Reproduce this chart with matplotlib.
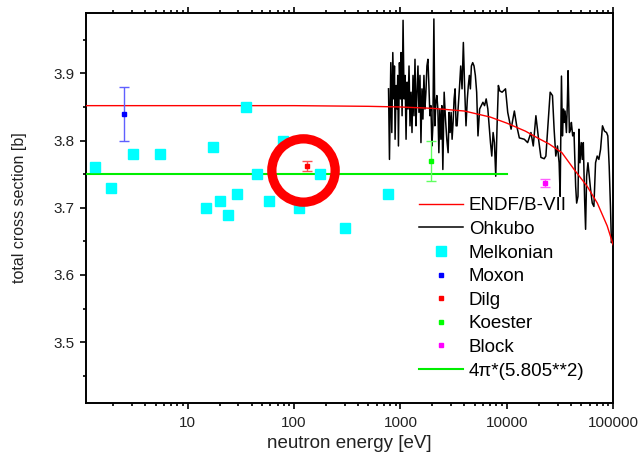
import matplotlib
matplotlib.use("Agg")
import matplotlib.pyplot as plt
from matplotlib.ticker import LogLocator, FixedLocator, NullFormatter, FuncFormatter

plt.rcParams['font.family'] = ['Liberation Sans', 'DejaVu Sans']

# ENDF/B-VII evaluation
endf_e = [1.1, 100, 500, 1000, 2000, 4000, 7000, 10000, 15000, 20000, 25000,
          33000, 43000, 57000, 71000, 88000, 100000]
endf_s = [3.852, 3.852, 3.851, 3.850, 3.848, 3.844, 3.835, 3.826, 3.814, 3.803,
          3.795, 3.782, 3.757, 3.732, 3.707, 3.673, 3.645]

# Ohkubo resonance data
ohkubo_e = [773, 789, 812, 830, 848, 866, 879, 891, 912, 931, 944, 958, 979, 1000,
            1014, 1037, 1059, 1082, 1106, 1130, 1154, 1180, 1205, 1231, 1258, 1285,
            1313, 1342, 1371, 1401, 1431, 1462, 1494, 1527, 1560, 1594, 1628, 1664,
            1700, 1737, 1775, 1814, 1853, 1893, 1935, 1977, 2020, 2064, 2109, 2155,
            2202, 2250, 2299, 2349, 2400, 2452, 2506, 2578, 2653, 2730, 2809, 2871,
            2933, 2997, 3062, 3129, 3197, 3267, 3338, 3411, 3485, 3586, 3690, 3797,
            3907, 4020, 4137, 4257, 4352, 4449, 4548, 4649, 4783, 4922, 5065, 5211,
            5362, 5556, 5757, 5966, 6182, 6405, 6637, 6829, 7027, 7230, 7440, 7655,
            7877, 8105, 8340, 8581, 9035, 9730, 10210, 10980, 11790, 12400, 13130,
            14620, 15710, 16880, 17750, 18790, 19910, 20940, 22490, 23320, 24150,
            25590, 26900, 27870, 28900, 29970, 31070, 31760, 32680, 33370, 34120,
            34600, 35330, 36380, 37160, 37690, 38810, 39930, 40490, 41680, 42880,
            44440, 45410, 46740, 47740, 48770, 50200, 51290, 52440, 53960, 55100,
            56340, 57980, 59700, 61400, 63650, 65960, 68360, 70840, 73420, 76210,
            79430, 82990, 86700, 89160, 91830, 94410, 96400, 99000]
ohkubo_s = [3.877, 3.772, 3.916, 3.812, 3.931, 3.862, 3.911, 3.802, 3.882, 3.847,
            3.897, 3.792, 3.916, 3.862, 3.931, 3.837, 3.979, 3.862, 3.897, 3.802,
            3.887, 3.847, 3.911, 3.822, 3.872, 3.812, 3.897, 3.837, 3.921, 3.822,
            3.872, 3.911, 3.842, 3.897, 3.797, 3.877, 3.832, 3.897, 3.847, 3.872,
            3.911, 3.921, 3.882, 3.837, 3.852, 3.792, 3.822, 3.981, 3.822, 3.857,
            3.867, 3.847, 3.782, 3.847, 3.802, 3.852, 3.757, 3.872, 3.832, 3.802,
            3.782, 3.842, 3.812, 3.842, 3.802, 3.827, 3.862, 3.877, 3.822, 3.822,
            3.847, 3.877, 3.911, 3.877, 3.946, 3.877, 3.822, 3.862, 3.882, 3.897,
            3.877, 3.911, 3.916, 3.911, 3.897, 3.872, 3.807, 3.847, 3.852, 3.857,
            3.852, 3.862, 3.847, 3.822, 3.797, 3.777, 3.812, 3.797, 3.747, 3.822,
            3.882, 3.874, 3.872, 3.877, 3.842, 3.817, 3.844, 3.822, 3.804, 3.802,
            3.797, 3.812, 3.792, 3.837, 3.802, 3.775, 3.773, 3.777, 3.812, 3.872,
            3.867, 3.817, 3.777, 3.792, 3.767, 3.717, 3.896, 3.807, 3.847, 3.827,
            3.844, 3.812, 3.857, 3.904, 3.812, 3.817, 3.827, 3.807, 3.812, 3.732,
            3.707, 3.717, 3.817, 3.767, 3.797, 3.772, 3.797, 3.712, 3.668, 3.747,
            3.767, 3.747, 3.727, 3.707, 3.702, 3.767, 3.777, 3.772, 3.787, 3.822,
            3.814, 3.812, 3.807, 3.762, 3.702, 3.648, 3.66]

# Melkonian
mel_e = [1.33, 1.92, 3.08, 5.5, 15, 17.2, 20.2, 24, 29.1, 35, 44.8, 57.5, 78, 111, 175, 300, 760]
mel_s = [3.76, 3.73, 3.78, 3.78, 3.70, 3.79, 3.71, 3.69, 3.72, 3.85, 3.75, 3.71, 3.80, 3.70, 3.75, 3.67, 3.72]

# single measurements: energy, value, error
moxon = (2.52, 3.84, 0.04)
dilg = (131, 3.762, 0.007)
koester = (1940, 3.77, 0.03)
block = (22800, 3.737, 0.006)

# 4pi*(5.805**2) constant
const_e = [1.1, 10000]
const_s = [3.75, 3.75]

# highlighted point
circle_e = 120.6
circle_s = 3.756

fig = plt.figure(figsize=(6.4, 4.61), dpi=100)
ax = fig.add_axes([0.134, 0.1265, 0.824, 0.8455])

ax.plot(endf_e, endf_s, color='#ff0000', lw=1.0, label='ENDF/B-VII', zorder=3)
ax.plot(ohkubo_e, ohkubo_s, color='black', lw=1.1, label='Ohkubo', zorder=2)
ax.plot(mel_e, mel_s, ls='none', marker='s', ms=6.8, color='#00ffff', label='Melkonian', zorder=4)

single = [(moxon, '#0000ff', '#6060ff', 'Moxon'),
          (dilg, '#ff0000', '#ff5050', 'Dilg'),
          (koester, '#00ff00', '#60ff60', 'Koester'),
          (block, '#ff00ff', '#ff60ff', 'Block')]
for (e, s, err), c, ec, name in single:
    ax.errorbar([e], [s], yerr=[err], fmt='none', ecolor=ec, elinewidth=1.0,
                capsize=3.5, capthick=1.0, zorder=4)
    ax.plot([e], [s], ls='none', marker='s', ms=3.2, color=c, label=name, zorder=5)

ax.plot(const_e, const_s, color='#00ee00', lw=1.5, label='4\u03c0*(5.805**2)', zorder=3)

ax.plot([circle_e], [circle_s], marker='o', ms=45.6, mfc='none', mec='#ff0000', mew=6.7,
        ls='none', zorder=6)

ax.set_xscale('log')
ax.set_xlim(1.1, 100000)
ax.set_ylim(3.41, 3.99)

ax.xaxis.set_major_locator(LogLocator(base=10, numticks=10))
ax.xaxis.set_minor_locator(LogLocator(base=10, subs=range(2, 10), numticks=20))
ax.xaxis.set_minor_formatter(NullFormatter())
ax.xaxis.set_major_formatter(FuncFormatter(lambda v, p: '%d' % round(v)))
ax.yaxis.set_major_locator(FixedLocator([3.5, 3.6, 3.7, 3.8, 3.9]))
ax.yaxis.set_minor_locator(FixedLocator([3.45, 3.55, 3.65, 3.75, 3.85, 3.95]))

ax.tick_params(axis='x', which='both', top=True, bottom=True, direction='out',
               labelsize=11, labelcolor='#222222', pad=5)
ax.tick_params(axis='y', which='both', left=True, right=False, direction='out',
               labelsize=11, labelcolor='#222222')
ax.tick_params(which='major', length=4.5, width=1.2)
ax.tick_params(which='minor', length=2.5, width=1.2)
for sp in ax.spines.values():
    sp.set_linewidth(1.4)

ax.set_xlabel('neutron energy [eV]', fontsize=13.5, color='#222222')
ax.set_ylabel('total cross section [b]', fontsize=11.5, color='#222222', labelpad=19)

ax.legend(loc='upper left', bbox_to_anchor=(0.632, 0.527), frameon=False,
          fontsize=13.5, borderpad=0, borderaxespad=0, handlelength=2.35,
          handletextpad=0.3, labelspacing=0.345, numpoints=1)

fig.savefig('out.png', dpi=100)
